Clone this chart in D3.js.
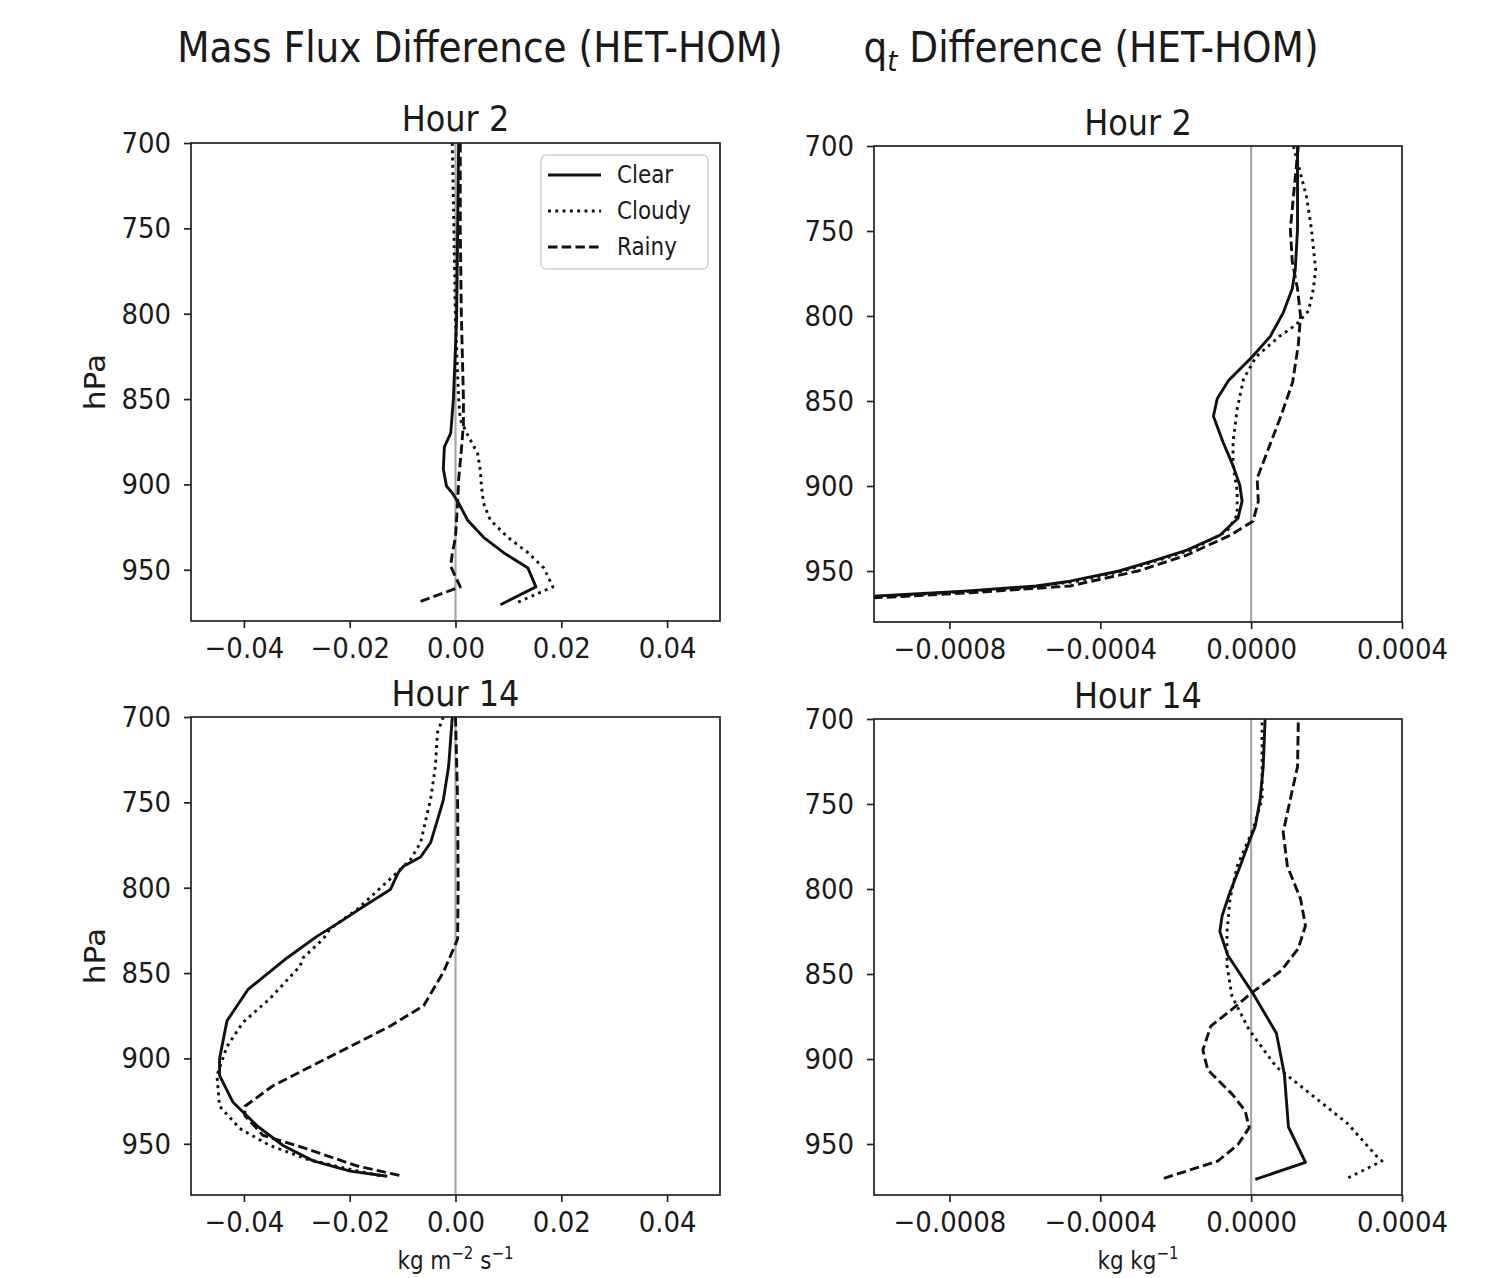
<!DOCTYPE html>
<html><head><meta charset="utf-8">
<script src="https://cdn.jsdelivr.net/npm/d3@7"></script>
<style>
body{margin:0;background:#fff}
text{font-family:"DejaVu Sans",sans-serif;fill:#1a1a1a}
</style>
</head><body>
<svg id="chart" width="1509" height="1278"></svg>
<script>
// ---------- DATA ----------
const pressureTicks = [700, 750, 800, 850, 900, 950];
const mfTicks = [-0.04, -0.02, 0, 0.02, 0.04];
const qtTicks = [-0.0008, -0.0004, 0, 0.0004];
const seriesNames = ["Clear", "Cloudy", "Rainy"];
const panelTitles = ["Hour 2", "Hour 2", "Hour 14", "Hour 14"];

// Mass flux, hour 2
const mf2ClearP  = [700, 804, 850, 870, 878, 891, 901, 905, 911, 921, 931, 940, 949, 960, 970.5];
const mf2ClearV  = [0.0006, 0.0002, -0.0004, -0.0009, -0.0021, -0.0023, -0.0017, -0.0006, 0.0006, 0.0023, 0.0053, 0.0091, 0.0137, 0.0152, 0.0085];
const mf2CloudyP = [700, 804, 850, 862, 871, 882, 892, 901, 911, 921, 931, 940, 949, 960, 969];
const mf2CloudyV = [-0.0006, 0, 0.0006, 0.0009, 0.0023, 0.0042, 0.0047, 0.0049, 0.0053, 0.0066, 0.0099, 0.0137, 0.0167, 0.0184, 0.0118];
const mf2RainyP  = [700, 750, 800, 850, 865, 880, 897, 911, 931, 940, 948, 954, 960, 969];
const mf2RainyV  = [0.0009, 0.0009, 0.0011, 0.0015, 0.0015, 0.0011, 0.0006, 0.0004, 0, -0.0006, -0.0009, 0, 0.0009, -0.007];

// Mass flux, hour 14
const mf14ClearP  = [700, 729, 748.5, 754, 773.6, 782, 787.6, 791, 801, 811, 820, 828.5, 841, 859.5, 878, 900, 910, 925.5, 939.5, 951, 960, 966, 969];
const mf14ClearV  = [-0.0006, -0.0013, -0.0023, -0.0028, -0.0047, -0.0066, -0.0099, -0.0108, -0.0123, -0.0174, -0.0218, -0.0262, -0.0318, -0.0392, -0.0432, -0.0446, -0.0446, -0.0421, -0.0375, -0.0326, -0.0269, -0.0199, -0.0129];
const mf14CloudyP = [700, 709, 729, 748, 773.6, 783.5, 791, 812.7, 824, 830, 841, 846, 865, 879, 893, 910, 928, 941, 951, 959, 964.6, 969];
const mf14CloudyV = [-0.0023, -0.0034, -0.0038, -0.0047, -0.0066, -0.0085, -0.011, -0.0186, -0.0237, -0.025, -0.0288, -0.0294, -0.0351, -0.0402, -0.0432, -0.0451, -0.0446, -0.0408, -0.0351, -0.0281, -0.0205, -0.0137];
const mf14RainyP  = [700, 750, 800, 830, 836, 849.5, 869, 881, 893, 904, 916, 928, 933.6, 945, 953, 963, 969];
const mf14RainyV  = [0.0000, 0.0004, 0.0005, 0.0004, -0.0004, -0.0023, -0.006, -0.0123, -0.0199, -0.0269, -0.0345, -0.0398, -0.0398, -0.0364, -0.0281, -0.0186, -0.0099];

// qt, hour 2
const qt2ClearP  = [700, 730, 749, 772.6, 784, 798, 812, 824, 838, 848.7, 859, 874, 888, 899.6, 909, 919, 929, 937.7, 944, 950, 956, 958.8, 961.7, 964, 965];
const qt2ClearV  = [0.000123, 0.000123, 0.000123, 0.000117, 0.000109, 0.0000853, 0.0000507, 0.000003, -0.00006, -0.00009, -0.0001, -0.000075, -0.000048, -0.00003, -0.000024, -0.000035, -0.000083, -0.00017, -0.00026, -0.00035, -0.00048, -0.00057, -0.00075, -0.00093, -0.00102];
const qt2CloudyP = [700, 730, 749, 772.6, 784, 797, 805, 812, 824, 837, 854.6, 874, 888, 903, 917, 926.6, 937.7, 944, 950, 956, 960, 964, 966];
const qt2CloudyV = [0.000112, 0.000147, 0.00016, 0.000171, 0.000165, 0.000152, 0.00012, 0.000075, 0.000013, -0.00002, -0.000037, -0.000048, -0.000048, -0.000037, -0.000037, -0.000064, -0.00016, -0.00025, -0.00034, -0.00046, -0.0006, -0.0009, -0.00105];
const qt2RainyP  = [700, 730, 749, 768, 784, 800, 817, 839, 860, 879.7, 895.5, 909, 920.7, 929, 940.6, 950, 958.8, 962.9, 965.8];
const qt2RainyV  = [0.000125, 0.000112, 0.000104, 0.000109, 0.000123, 0.000131, 0.000125, 0.00011, 0.000077, 0.000043, 0.000016, 0.000019, 0.000005, -0.000056, -0.00017, -0.0003, -0.00048, -0.00075, -0.001];

// qt, hour 14
const qt14ClearP  = [700, 728, 747, 763, 770.8, 786.5, 801.8, 815.8, 825, 839, 860.8, 884.8, 908.8, 940, 960.8, 970.8];
const qt14ClearV  = [0.000037, 0.000032, 0.000024, 0.000011, -0.000003, -0.000029, -0.000056, -0.000077, -0.000083, -0.000062, 0.000003, 0.000067, 0.000088, 0.000099, 0.000144, 0.000011];
const qt14CloudyP = [702, 747, 765, 786.5, 805.8, 825, 845, 863, 883, 904.7, 918.7, 938, 958, 960, 970];
const qt14CloudyV = [0.000029, 0.000029, 0.000005, -0.000037, -0.000056, -0.000064, -0.000064, -0.000051, -0.000005, 0.000067, 0.000147, 0.000256, 0.000336, 0.000347, 0.000256];
const qt14RainyP  = [702, 728, 747, 766.7, 786.5, 805.8, 821.6, 835, 848, 860.8, 870.8, 880.7, 894.7, 906.4, 920.5, 930.4, 940.4, 950.3, 960, 970.8];
const qt14RainyV  = [0.000125, 0.000123, 0.000104, 0.000085, 0.000096, 0.000131, 0.000144, 0.000125, 0.00008, 0.000003, -0.000051, -0.000107, -0.000128, -0.000115, -0.000051, -0.000016, -0.000005, -0.000035, -0.000088, -0.00024];

// ---------- DRAW ----------
const svg = d3.select("#chart");
svg.append("rect").attr("width", 1509).attr("height", 1278).attr("fill", "#fff");

const SY = 1.12; // vertical stretch of glyphs seen in the reference
const LW = 2.9;
const dashes = {Clear: null, Cloudy: "2.9,4.4", Rainy: "9.5,4.2"};
const zip = (P, V) => P.map((p, i) => ({p, v: V[i]}));

function stretch(sel) {
  sel.each(function () {
    const x = +this.getAttribute("x") || 0, y = +this.getAttribute("y") || 0;
    const pre = this.getAttribute("transform") || "";
    this.setAttribute("transform", `${pre} translate(${x},${y}) scale(1,${SY}) translate(${-x},${-y})`);
  });
}

const panels = [
  {x0: 191, x1: 720, y0: 143, y1: 621, dom: [-0.05, 0.05], ticks: mfTicks, fmt: d3.format(".2f"), title: panelTitles[0], ty: 131,
   series: [zip(mf2ClearP, mf2ClearV), zip(mf2CloudyP, mf2CloudyV), zip(mf2RainyP, mf2RainyV)], legend: true, ylabel: true},
  {x0: 874, x1: 1402, y0: 146, y1: 622, dom: [-0.001, 0.0004], ticks: qtTicks, fmt: d3.format(".4f"), title: panelTitles[1], ty: 135,
   series: [zip(qt2ClearP, qt2ClearV), zip(qt2CloudyP, qt2CloudyV), zip(qt2RainyP, qt2RainyV)]},
  {x0: 191, x1: 720, y0: 717, y1: 1195, dom: [-0.05, 0.05], ticks: mfTicks, fmt: d3.format(".2f"), title: panelTitles[2], ty: 706,
   series: [zip(mf14ClearP, mf14ClearV), zip(mf14CloudyP, mf14CloudyV), zip(mf14RainyP, mf14RainyV)], ylabel: true, xlabel: "mf"},
  {x0: 874, x1: 1402, y0: 719, y1: 1195, dom: [-0.001, 0.0004], ticks: qtTicks, fmt: d3.format(".4f"), title: panelTitles[3], ty: 708,
   series: [zip(qt14ClearP, qt14ClearV), zip(qt14CloudyP, qt14CloudyV), zip(qt14RainyP, qt14RainyV)], xlabel: "qt"}
];

panels.forEach((pn, idx) => {
  const x = d3.scaleLinear().domain(pn.dom).range([pn.x0, pn.x1]);
  const y = d3.scaleLinear().domain([700, 980]).range([pn.y0, pn.y1]);
  const g = svg.append("g");
  const cid = "clip" + idx;
  svg.append("clipPath").attr("id", cid).append("rect")
    .attr("x", pn.x0).attr("y", pn.y0).attr("width", pn.x1 - pn.x0).attr("height", pn.y1 - pn.y0);

  // zero line
  g.append("line").attr("x1", x(0)).attr("x2", x(0)).attr("y1", pn.y0).attr("y2", pn.y1)
    .attr("stroke", "#aaaaaa").attr("stroke-width", 2.2);

  const line = d3.line().x(d => x(d.v)).y(d => y(d.p));
  const lg = g.append("g").attr("clip-path", `url(#${cid})`);
  pn.series.forEach((s, i) => {
    lg.append("path").attr("d", line(s)).attr("fill", "none").attr("stroke", "#111")
      .attr("stroke-width", LW).attr("stroke-linejoin", "round").attr("stroke-dasharray", dashes[seriesNames[i]]);
  });

  // frame
  g.append("rect").attr("x", pn.x0).attr("y", pn.y0).attr("width", pn.x1 - pn.x0).attr("height", pn.y1 - pn.y0)
    .attr("fill", "none").attr("stroke", "#222").attr("stroke-width", 1.7);

  // axes
  const xa = g.append("g").attr("transform", `translate(0,${pn.y1})`)
    .call(d3.axisBottom(x).tickValues(pn.ticks).tickFormat(pn.fmt).tickSizeOuter(0).tickSize(7).tickPadding(9));
  const ya = g.append("g").attr("transform", `translate(${pn.x0},0)`)
    .call(d3.axisLeft(y).tickValues(pressureTicks).tickFormat(d3.format("d")).tickSizeOuter(0).tickSize(7).tickPadding(13));
  [xa, ya].forEach(a => {
    a.select(".domain").remove();
    a.selectAll(".tick line").attr("stroke", "#222").attr("stroke-width", 1.7);
    const t = a.selectAll(".tick text").attr("font-size", 26).attr("fill", "#1a1a1a")
      .style("font-family", '"DejaVu Sans", sans-serif');
    stretch(t);
  });

  // subplot title
  stretch(g.append("text").attr("x", (pn.x0 + pn.x1) / 2).attr("y", pn.ty).attr("text-anchor", "middle")
    .attr("font-size", 32).text(pn.title));

  if (pn.ylabel) {
    const cy = (pn.y0 + pn.y1) / 2;
    g.append("text").attr("transform", `translate(105,${cy}) rotate(-90) scale(${SY},1)`).attr("text-anchor", "middle")
      .attr("font-size", 28).text("hPa");
  }
  if (pn.xlabel === "mf") {
    const t = g.append("text").attr("x", x(0)).attr("y", 1269).attr("text-anchor", "middle").attr("font-size", 21.5);
    t.append("tspan").text("kg m");
    t.append("tspan").attr("dy", -9).attr("font-size", 15).text("−2");
    t.append("tspan").attr("dy", 9).text(" s");
    t.append("tspan").attr("dy", -9).attr("font-size", 15).text("−1");
    stretch(t);
  }
  if (pn.xlabel === "qt") {
    const t = g.append("text").attr("x", (pn.x0 + pn.x1) / 2).attr("y", 1269).attr("text-anchor", "middle").attr("font-size", 21.5);
    t.append("tspan").text("kg kg");
    t.append("tspan").attr("dy", -9).attr("font-size", 15).text("−1");
    stretch(t);
  }

  if (pn.legend) {
    const lgd = g.append("g");
    lgd.append("rect").attr("x", 541).attr("y", 155).attr("width", 167).attr("height", 114).attr("rx", 5)
      .attr("fill", "#fff").attr("fill-opacity", 0.85).attr("stroke", "#d0d0d0").attr("stroke-width", 1.5);
    seriesNames.forEach((n, i) => {
      const yy = 175 + i * 36;
      lgd.append("line").attr("x1", 548).attr("x2", 601).attr("y1", yy).attr("y2", yy)
        .attr("stroke", "#111").attr("stroke-width", LW).attr("stroke-dasharray", dashes[n]);
      stretch(lgd.append("text").attr("x", 617).attr("y", yy + 8).attr("font-size", 21.5).text(n));
    });
  }
});

// main titles
stretch(svg.append("text").attr("x", 480).attr("y", 62).attr("text-anchor", "middle").attr("font-size", 37.5)
  .text("Mass Flux Difference (HET-HOM)"));
const rt = svg.append("text").attr("x", 1091).attr("y", 62).attr("text-anchor", "middle").attr("font-size", 37.5);
rt.append("tspan").text("q");
rt.append("tspan").attr("dy", 8).attr("font-size", 26).attr("font-style", "italic").text("t");
rt.append("tspan").attr("dy", -8).text(" Difference (HET-HOM)");
stretch(rt);
</script>
</body></html>
